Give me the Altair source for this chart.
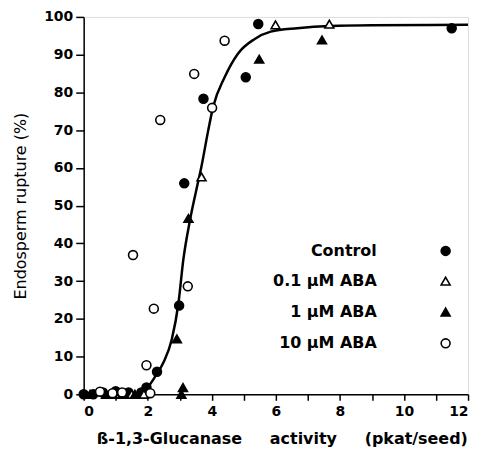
import altair as alt
import pandas as pd

# ---- data ----
ctrl_x = [0.0, 0.3, 0.6, 1.0, 1.4, 1.8, 1.96, 2.29, 2.98, 3.14, 3.74, 5.06, 5.45, 11.49]
ctrl_y = [0.0, 0.0, 0.5, 0.8, 0.5, 0.5, 1.8, 6.0, 23.5, 55.9, 78.3, 84.0, 98.1, 97.0]

aba01_x = [0.9, 1.5, 1.88, 3.68, 5.99, 7.67]
aba01_y = [0.0, 0.0, 0.0, 57.6, 97.9, 98.1]

aba1_x = [0.2, 0.7, 1.2, 1.6, 2.91, 3.05, 3.10, 3.27, 5.48, 7.44]
aba1_y = [0.0, 0.0, 0.0, 0.0, 14.7, 0.0, 1.8, 46.6, 88.8, 93.9]

aba10_x = [0.51, 0.9, 1.2, 1.54, 1.96, 2.08, 2.19, 2.39, 3.25, 3.45, 4.01, 4.40]
aba10_y = [0.7, 0.3, 0.5, 36.9, 7.7, 0.3, 22.7, 72.7, 28.6, 84.9, 75.9, 93.7]

curve_x = [0.0, 1.5, 1.8, 2.03, 2.24, 2.49, 2.75, 2.96, 3.11, 3.32, 3.50, 3.68, 3.89, 4.04,
           4.40, 4.81, 5.33, 5.84, 6.67, 7.70, 9.0, 12.0]
curve_y = [0.0, 0.1, 0.8, 2.2, 4.8, 8.4, 14.5, 24.2, 35.6, 46.2, 53.5, 60.5, 70.0, 76.1,
           84.0, 90.2, 94.1, 96.1, 97.0, 97.6, 97.8, 97.9]

series_names = ["Control", "0.1 μM ABA", "1 μM ABA", "10 μM ABA"]
series_shapes = ["circle", "triangle-up", "triangle-up", "circle"]
series_fills = ["black", "white", "black", "white"]

legend_y = [38.0, 30.0, 21.8, 13.5]
legend_text_x = 9.15
legend_sym_x = 11.3

x_ticks = list(range(0, 13))
y_ticks = list(range(0, 101, 10))

# ---- tables ----
rows = []
for name, xs, ys in zip(series_names, [ctrl_x, aba01_x, aba1_x, aba10_x],
                        [ctrl_y, aba01_y, aba1_y, aba10_y]):
    for xv, yv in zip(xs, ys):
        rows.append({"series": name, "x": xv, "y": yv})
pts = pd.DataFrame(rows)
curve = pd.DataFrame({"x": curve_x, "y": curve_y})
leg = pd.DataFrame({"series": series_names, "y": legend_y,
                    "tx": [legend_text_x] * 4, "sx": [legend_sym_x] * 4})

xscale = alt.Scale(domain=[0, 12], nice=False, zero=False)
yscale = alt.Scale(domain=[0, 100], nice=False)
shape_scale = alt.Scale(domain=series_names, range=series_shapes)
fill_scale = alt.Scale(domain=series_names, range=series_fills)

FONT = "DejaVu Sans"
GAP = "\u00a0" * 5
X_TITLE = "ß-1,3-Glucanase" + GAP + "activity" + GAP + "(pkat/seed)"
Y_TITLE = "Endosperm rupture (%)"


def xaxis():
    return alt.Axis(values=x_ticks, labelExpr="datum.value % 2 === 0 ? datum.label : ''",
                    title=X_TITLE, grid=False, tickSize=6, labelPadding=4, titlePadding=12,
                    labelFontSize=14, labelFontWeight="bold", titleFontSize=16,
                    titleFontWeight="bold", labelFont=FONT, titleFont=FONT,
                    labelOverlap=False, titleX=199,
                    domainColor="black", tickColor="black", labelColor="black",
                    titleColor="black", domainWidth=1.5, tickWidth=1.5)


def yaxis():
    return alt.Axis(values=y_ticks, title=Y_TITLE, grid=False,
                    tickSize=8, labelPadding=3, titlePadding=15,
                    labelFontSize=14, labelFontWeight="bold", titleFontSize=16,
                    titleFontWeight="normal", labelFont=FONT, titleFont=FONT,
                    labelOverlap=False,
                    domainColor="black", tickColor="black", labelColor="black",
                    titleColor="black", domainWidth=1.5, tickWidth=1.5)


line = alt.Chart(curve).mark_line(color="black", strokeWidth=2.5, interpolate="monotone").encode(
    x=alt.X("x:Q", scale=xscale, axis=xaxis(), title=X_TITLE),
    y=alt.Y("y:Q", scale=yscale, axis=yaxis(), title=Y_TITLE),
)

points = alt.Chart(pts).mark_point(size=80, strokeWidth=1.6, stroke="black", opacity=1,
                                   filled=False).encode(
    x=alt.X("x:Q", scale=xscale, axis=xaxis(), title=X_TITLE),
    y=alt.Y("y:Q", scale=yscale, axis=yaxis(), title=Y_TITLE),
    shape=alt.Shape("series:N", scale=shape_scale, legend=None),
    fill=alt.Fill("series:N", scale=fill_scale, legend=None),
)

leg_text = alt.Chart(leg).mark_text(align="right", baseline="middle", font=FONT,
                                    fontSize=16, fontWeight="bold", color="black").encode(
    x=alt.X("tx:Q", scale=xscale, axis=xaxis(), title=X_TITLE),
    y=alt.Y("y:Q", scale=yscale, axis=yaxis(), title=Y_TITLE),
    text="series:N",
)
leg_sym = alt.Chart(leg).mark_point(size=80, strokeWidth=1.6, stroke="black", opacity=1,
                                    filled=False).encode(
    x=alt.X("sx:Q", scale=xscale, axis=xaxis(), title=X_TITLE),
    y=alt.Y("y:Q", scale=yscale, axis=yaxis(), title=Y_TITLE),
    shape=alt.Shape("series:N", scale=shape_scale, legend=None),
    fill=alt.Fill("series:N", scale=fill_scale, legend=None),
)

chart = alt.layer(line, points, leg_text, leg_sym).properties(
    width=386, height=379,
    autosize=alt.AutoSizeParams(type="none"),
    padding={"left": 76, "top": 8, "right": 10, "bottom": 60},
).configure_view(stroke="black", strokeWidth=1.5).configure(background="white")

chart.save("out.html", embed_options={"renderer": "svg", "actions": False})
